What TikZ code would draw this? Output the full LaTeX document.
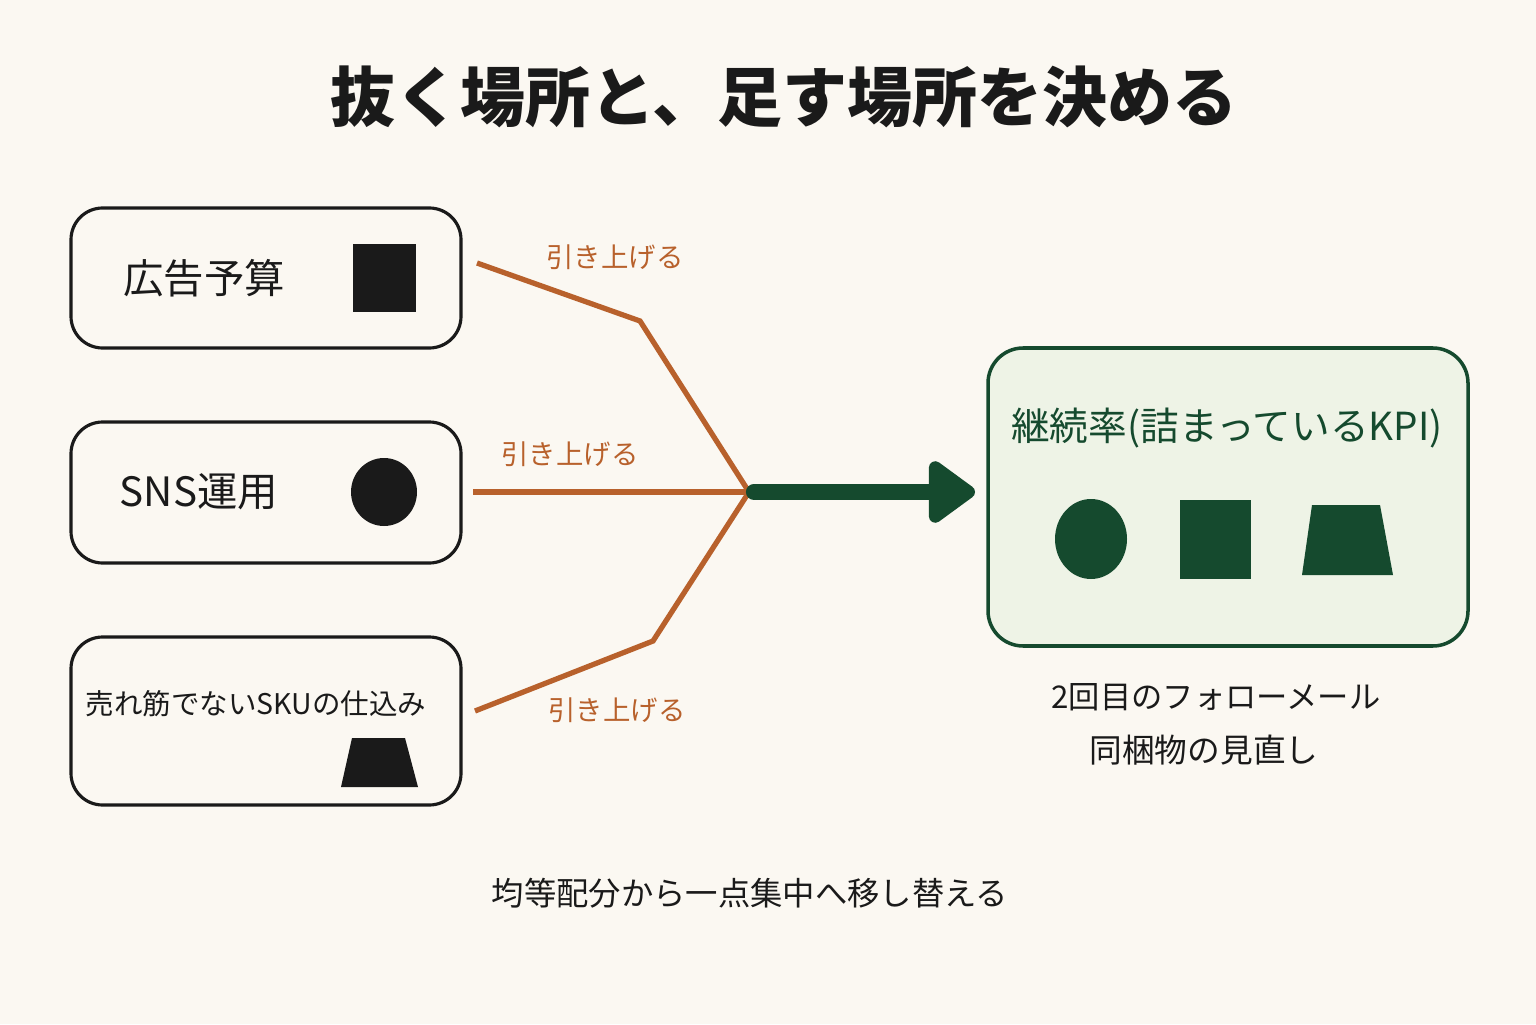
\documentclass[tikz,border=0pt]{standalone}
\usepackage{fontspec}
\setmainfont{Noto Sans CJK JP}
\usetikzlibrary{arrows.meta}
\definecolor{paper}{HTML}{FBF8F2}
\definecolor{ink}{HTML}{1A1A1A}
\definecolor{rust}{HTML}{B8612C}
\definecolor{pine}{HTML}{154A2E}
\definecolor{mint}{HTML}{EEF3E6}

\begin{document}
\begin{tikzpicture}[
        srcbox/.style={draw=ink, rectangle, rounded corners=9pt, line width=0.9pt, minimum width=3.9cm, fill=paper},
        kpibox/.style={draw=pine, rectangle, rounded corners=10pt, line width=1pt, minimum width=4.8cm, minimum height=2.98cm, fill=mint},
        srctext/.style={font=\fontsize{11.5}{13}\selectfont, text=ink, inner sep=0pt},
        feed/.style={draw=rust, line width=1.5pt, line join=miter},
        feedlabel/.style={font=\fontsize{7.8}{9}\selectfont, text=rust, inner sep=1pt},
        shiftarrow/.style={draw=pine, line width=4.6pt, line cap=round, -{Triangle[length=14.5pt, width=20pt, round=false]}},
        note/.style={font=\fontsize{9.2}{11}\selectfont, text=ink, inner sep=0pt}
    ]

    \useasboundingbox[fill=paper] (0,0) rectangle (15.36,10.24);

    % --- Title ---
    \node[font=\fontsize{18.5}{21}\selectfont\bfseries, text=ink] (title) at (7.84, 9.27) {抜く場所と、足す場所を決める};

    % --- Sources ---
    \node[srcbox, minimum height=1.40cm] (ad) at (2.66, 7.46) {};
    \node[srctext] (adtext) at (2.04, 7.46) {広告予算};
    \fill[ink] (3.53, 7.12) rectangle (4.16, 7.80);

    \node[srcbox, minimum height=1.41cm] (sns) at (2.66, 5.315) {};
    \node[srctext] (snstext) at (1.99, 5.32) {SNS運用};
    \fill[ink] (3.84, 5.32) ellipse [x radius=0.33, y radius=0.34];

    \node[srcbox, minimum height=1.68cm] (sku) at (2.66, 3.03) {};
    \node[srctext, font=\fontsize{8.1}{10}\selectfont] (skutext) at (2.56, 3.20) {売れ筋でないSKUの仕込み};
    \fill[ink] (3.52, 2.86) -- (4.05, 2.86) -- (4.18, 2.37) -- (3.41, 2.37) -- cycle;

    % --- Target ---
    \node[kpibox] (kpi) at (12.28, 5.27) {};
    \node[font=\fontsize{11}{13}\selectfont, text=pine] (kpitext) at (12.27, 5.96) {継続率(詰まっているKPI)};
    \fill[pine] (10.91, 4.85) ellipse [x radius=0.36, y radius=0.40];
    \fill[pine] (11.80, 4.45) rectangle (12.51, 5.24);
    \fill[pine] (13.12, 5.19) -- (13.80, 5.19) -- (13.93, 4.49) -- (13.02, 4.49) -- cycle;

    % --- Feeds ---
    \coordinate (adout) at (4.77, 7.61);
    \coordinate (snsout) at (4.73, 5.32);
    \coordinate (skuout) at (4.75, 3.13);
    \coordinate (adbend) at (6.40, 7.03);
    \coordinate (skubend) at (6.53, 3.83);
    \coordinate (hub) at (7.49, 5.32);
    \coordinate (kpiin) at (9.75, 5.32);

    \draw[feed] (adout) -- (adbend) -- (hub);
    \draw[feed] (snsout) -- (hub);
    \draw[feed] (skuout) -- (skubend) -- (hub);
    \draw[shiftarrow] ([xshift=0.05cm]hub) -- (kpiin);

    \node[feedlabel] (adlabel) at (6.15, 7.67) {引き上げる};
    \node[feedlabel] (snslabel) at (5.70, 5.70) {引き上げる};
    \node[feedlabel] (skulabel) at (6.17, 3.14) {引き上げる};

    % --- Notes ---
    \node[note, font=\fontsize{8.9}{11}\selectfont] (mail) at (12.16, 3.27) {2回目のフォローメール};
    \node[note, font=\fontsize{9.3}{11}\selectfont] (pack) at (12.04, 2.74) {同梱物の見直し};
    \node[note] (summary) at (7.50, 1.31) {均等配分から一点集中へ移し替える};

    \end{tikzpicture}
\end{document}
